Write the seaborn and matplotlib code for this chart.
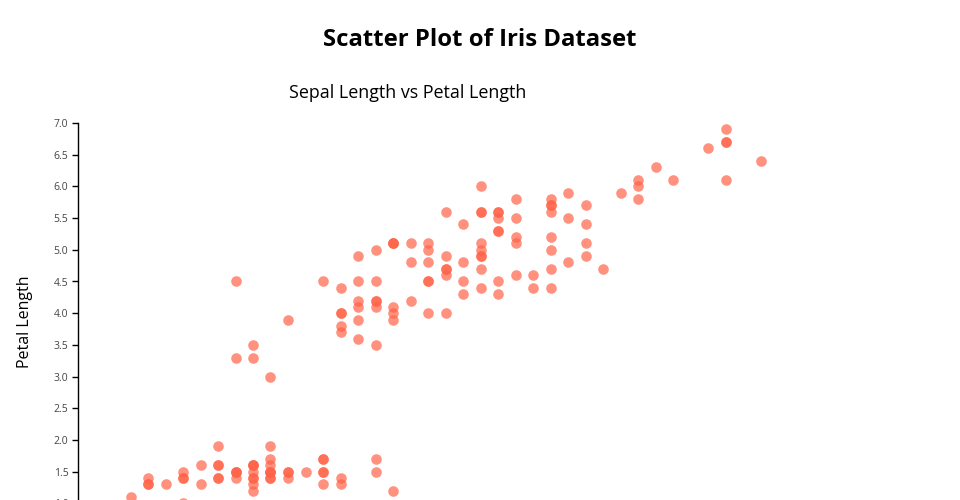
import numpy as np
import pandas as pd
import matplotlib
matplotlib.use("Agg")
import matplotlib.pyplot as plt
import seaborn as sns

sns.set_theme(style="white")
plt.rcParams['font.family'] = ['Open Sans', 'DejaVu Sans']

# iris: sepal length / petal length (150 rows)
sepal_length = [
    5.1, 4.9, 4.7, 4.6, 5.0, 5.4, 4.6, 5.0, 4.4, 4.9, 5.4, 4.8, 4.8, 4.3, 5.8, 5.7, 5.4, 5.1, 5.7, 5.1,
    5.4, 5.1, 4.6, 5.1, 4.8, 5.0, 5.0, 5.2, 5.2, 4.7, 4.8, 5.4, 5.2, 5.5, 4.9, 5.0, 5.5, 4.9, 4.4, 5.1,
    5.0, 4.5, 4.4, 5.0, 5.1, 4.8, 5.1, 4.6, 5.3, 5.0,
    7.0, 6.4, 6.9, 5.5, 6.5, 5.7, 6.3, 4.9, 6.6, 5.2, 5.0, 5.9, 6.0, 6.1, 5.6, 6.7, 5.6, 5.8, 6.2, 5.6,
    5.9, 6.1, 6.3, 6.1, 6.4, 6.6, 6.8, 6.7, 6.0, 5.7, 5.5, 5.5, 5.8, 6.0, 5.4, 6.0, 6.7, 6.3, 5.6, 5.5,
    5.5, 6.1, 5.8, 5.0, 5.6, 5.7, 5.7, 6.2, 5.1, 5.7,
    6.3, 5.8, 7.1, 6.3, 6.5, 7.6, 4.9, 7.3, 6.7, 7.2, 6.5, 6.4, 6.8, 5.7, 5.8, 6.4, 6.5, 7.7, 7.7, 6.0,
    6.9, 5.6, 7.7, 6.3, 6.7, 7.2, 6.2, 6.1, 6.4, 7.2, 7.4, 7.9, 6.4, 6.3, 6.1, 7.7, 6.3, 6.4, 6.0, 6.9,
    6.7, 6.9, 5.8, 6.8, 6.7, 6.7, 6.3, 6.5, 6.2, 5.9,
]
petal_length = [
    1.4, 1.4, 1.3, 1.5, 1.4, 1.7, 1.4, 1.5, 1.4, 1.5, 1.5, 1.6, 1.4, 1.1, 1.2, 1.5, 1.3, 1.4, 1.7, 1.5,
    1.7, 1.5, 1.0, 1.7, 1.9, 1.6, 1.6, 1.5, 1.4, 1.6, 1.6, 1.5, 1.5, 1.4, 1.5, 1.2, 1.3, 1.5, 1.3, 1.5,
    1.3, 1.3, 1.3, 1.6, 1.9, 1.4, 1.6, 1.4, 1.5, 1.4,
    4.7, 4.5, 4.9, 4.0, 4.6, 4.5, 4.7, 3.3, 4.6, 3.9, 3.5, 4.2, 4.0, 4.7, 3.6, 4.4, 4.5, 4.1, 4.5, 3.9,
    4.8, 4.0, 4.9, 4.7, 4.3, 4.4, 4.8, 5.0, 4.5, 3.5, 3.8, 3.7, 3.9, 5.1, 4.5, 4.5, 4.7, 4.4, 4.1, 4.0,
    4.4, 4.6, 4.0, 3.3, 4.2, 4.2, 4.2, 4.3, 3.0, 4.1,
    6.0, 5.1, 5.9, 5.6, 5.8, 6.6, 4.5, 6.3, 5.8, 6.1, 5.1, 5.3, 5.5, 5.0, 5.1, 5.3, 5.5, 6.7, 6.9, 5.0,
    5.7, 4.9, 6.7, 4.9, 5.7, 6.0, 4.8, 4.9, 5.6, 5.8, 6.1, 6.4, 5.6, 5.1, 5.6, 6.1, 5.6, 5.5, 4.8, 5.4,
    5.6, 5.1, 5.1, 5.9, 5.7, 5.2, 5.0, 5.2, 5.4, 5.1,
]
y_ticks = [1.0, 1.5, 2.0, 2.5, 3.0, 3.5, 4.0, 4.5, 5.0, 5.5, 6.0, 6.5, 7.0]

df = pd.DataFrame({"sepal_length": sepal_length, "petal_length": petal_length})

fig = plt.figure(figsize=(9.6, 5), dpi=100)
# axes runs past the bottom edge, like the cropped original
ax = fig.add_axes([78 / 960, 1 - 521 / 500, 700 / 960, 398 / 500])

sns.scatterplot(data=df, x="sepal_length", y="petal_length", ax=ax,
                color="#FF6347", alpha=0.7, s=58, linewidth=0, legend=False)

ax.set_xlim(4.0, 8.0)
ax.set_ylim(7.0 - 398 / 63.4, 7.0)
ax.set_yticks(y_ticks)
ax.set_yticklabels(["{:.1f}".format(t) for t in y_ticks])
ax.set_xticks([])
ax.set_xlabel("")

for side in ["top", "right", "bottom"]:
    ax.spines[side].set_visible(False)
ax.spines["left"].set_color("black")
ax.spines["left"].set_linewidth(1)
ax.tick_params(axis="y", which="major", direction="out", length=4, width=1,
               color="black", labelsize=7.5, labelcolor="#444444", pad=3, left=True)

ax.set_ylabel("Petal Length", fontsize=11.5, color="black")
ax.yaxis.set_label_coords((33 - 78) / 700, (521 - 322) / 398)

fig.text(0.5, 1 - 46 / 500, "Scatter Plot of Iris Dataset", ha="center", va="baseline",
         fontsize=17.2, fontweight="bold", color="black")
fig.text(408 / 960, 1 - 98 / 500, "Sepal Length vs Petal Length", ha="center", va="baseline",
         fontsize=12.9, color="black")

fig.savefig("out.png", dpi=100, facecolor="white")
